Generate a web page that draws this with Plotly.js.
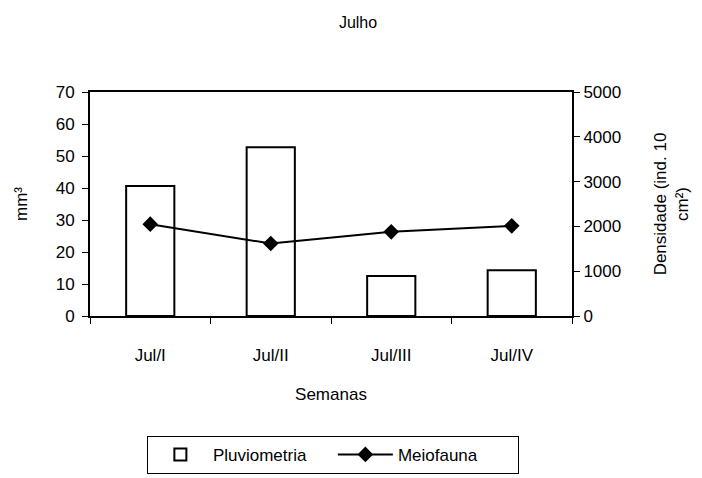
<!DOCTYPE html>
<html><head><meta charset="utf-8">
<script src="https://cdn.plot.ly/plotly-3.0.1.min.js"></script>
<style>html,body{margin:0;padding:0;background:#fff}#c{width:702px;height:478px}</style>
</head><body><div id="c"></div>
<script>
const semanas = ["Jul/I", "Jul/II", "Jul/III", "Jul/IV"];
const pluviometria = [40.6, 52.7, 12.5, 14.3];
const meiofauna = [2050, 1618, 1878, 2012];
const leftTicks = [0, 10, 20, 30, 40, 50, 60, 70];
const rightTicks = [0, 1000, 2000, 3000, 4000, 5000];

const F = "Liberation Sans, Arial, sans-serif";
const traces = [
  {type: "bar", x: semanas, y: pluviometria, name: "Pluviometria",
   marker: {color: "#fff", line: {color: "#000", width: 2}}, yaxis: "y"},
  {type: "scatter", mode: "lines+markers", x: semanas, y: meiofauna, name: "Meiofauna",
   line: {color: "#000", width: 2}, marker: {symbol: "diamond", size: 12, color: "#000"}, yaxis: "y2"}
];
const layout = {
  width: 702, height: 478,
  margin: {l: 90, r: 130, t: 92, b: 162, autoexpand: false},
  paper_bgcolor: "#fff", plot_bgcolor: "#fff",
  font: {family: F, size: 17, color: "#000"},
  title: {text: "Julho", x: 0.51, xanchor: "center", y: 0.954, yanchor: "middle", font: {family: F, size: 16}},
  showlegend: true,
  legend: {orientation: "h", x: 0.118, xanchor: "left", y: -0.535, yanchor: "top",
           entrywidth: 115, entrywidthmode: "pixels", itemwidth: 55,
           bordercolor: "#000", borderwidth: 1, font: {family: F, size: 17}, traceorder: "normal"},
  bargap: 0.6,
  xaxis: {type: "category", showline: true, linecolor: "#000", linewidth: 2, mirror: true,
          ticks: "outside", tickson: "boundaries", ticklen: 6, tickcolor: "#000", tickwidth: 1,
          ticklabelstandoff: 23,
          showgrid: false, zeroline: false, fixedrange: true,
          title: {text: "Semanas", font: {family: F, size: 17}, standoff: 24}},
  yaxis: {range: [0, 70], tickvals: leftTicks, showline: true, linecolor: "#000", linewidth: 2, mirror: true,
          ticks: "outside", ticklen: 6, tickcolor: "#000", tickwidth: 1, showgrid: false, zeroline: false,
          ticklabelstandoff: 4,
          title: {text: "mm³", font: {family: F, size: 17}, standoff: 24}},
  yaxis2: {overlaying: "y", side: "right", range: [0, 5000], tickvals: rightTicks,
           showline: true, linecolor: "#000", linewidth: 2, ticks: "outside", ticklen: 6, tickcolor: "#000", tickwidth: 1,
           showgrid: false, zeroline: false,
           title: {text: "Densidade (ind. 10<br>cm²)", font: {family: F, size: 17}, standoff: 34}}
};
Plotly.newPlot("c", traces, layout, {displayModeBar: false, staticPlot: true});
</script></body></html>
